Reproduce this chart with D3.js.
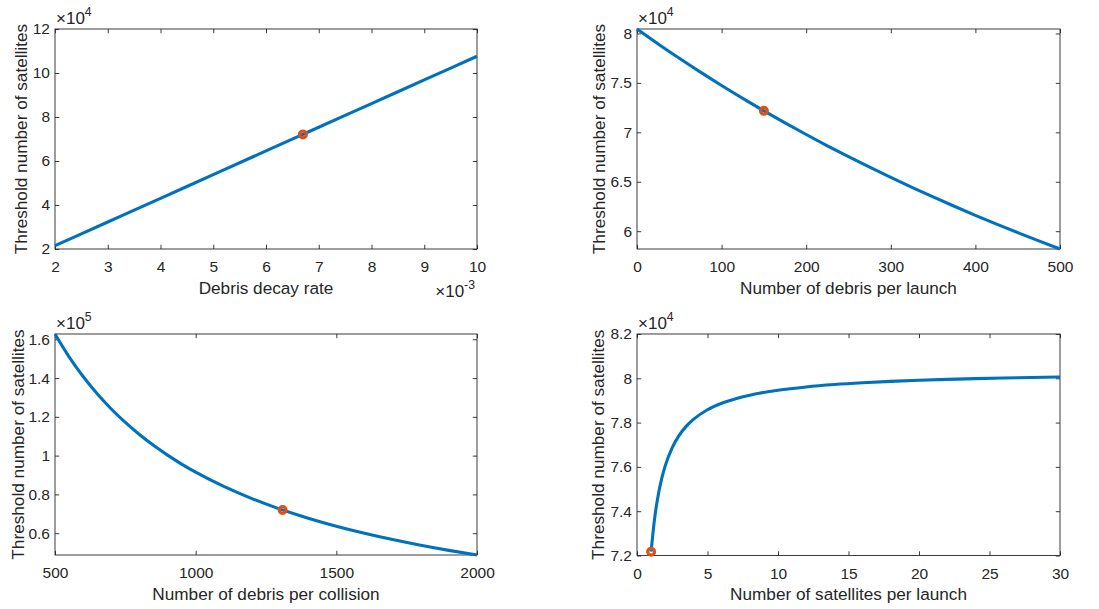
<!DOCTYPE html>
<html>
<head>
<meta charset="utf-8">
<script src="https://cdn.jsdelivr.net/npm/d3@7"></script>
<style>
  html, body { margin: 0; padding: 0; background: #fff; }
  svg { display: block; font-family: "Liberation Sans", Arial, Helvetica, sans-serif; }
</style>
</head>
<body>
<svg id="chart" width="1099" height="609"></svg>
<script>
// ---------------- data ----------------
// Panel 1: debris decay rate
const decayRate   = [0.002, 0.003, 0.004, 0.005, 0.006, 0.007, 0.008, 0.009, 0.010];
const threshDecay = [21520, 32280, 43040, 53810, 64570, 75330, 86090, 96850, 107610];

// Panel 2: number of debris per launch
const debrisPerLaunch    = [0, 25, 50, 75, 100, 125, 150, 175, 200, 225, 250, 275, 300, 325, 350, 375, 400, 425, 450, 475, 500];
const threshLaunchDebris = [80451, 78942, 77488, 76087, 74736, 73433, 72173, 70956, 69780, 68642, 67540, 66473, 65440, 64438, 63466, 62524, 61608, 60720, 59856, 59017, 58200];

// Panel 3: number of debris per collision
const debrisPerCollision = [500, 550, 600, 650, 700, 750, 800, 850, 900, 950, 1000, 1100, 1200, 1300, 1400, 1500, 1600, 1700, 1800, 1900, 2000];
const threshCollision    = [162710, 150950, 140780, 131890, 124050, 117100, 110880, 105290, 100240, 95650, 91460, 84100, 77830, 72430, 67730, 63610, 59960, 56700, 53780, 51150, 48760];

// Panel 4: number of satellites per launch
const satsPerLaunch = [1, 1.25, 1.5, 1.75, 2, 2.5, 3, 3.5, 4, 5, 6, 7, 8, 10, 12, 14, 16, 18, 20, 22, 24, 26, 28, 30];
const threshSats    = [72173, 73674, 74711, 75469, 76048, 76874, 77434, 77840, 78146, 78580, 78871, 79081, 79239, 79461, 79610, 79717, 79797, 79860, 79910, 79951, 79985, 80014, 80039, 80060];

// Nominal operating points (markers)
const markerX = [0.0067, 150, 1309, 1];
const markerY = [72100, 72173, 72000, 72173];

// Axis ranges
const xDomains = [[0.002, 0.010], [0, 500], [500, 2000], [0, 30]];
const yDomains = [[20000, 120000], [58200, 80451], [48760, 162710], [72000, 82000]];

// Tick values & labels
const xTickValues = [
  [0.002, 0.003, 0.004, 0.005, 0.006, 0.007, 0.008, 0.009, 0.010],
  [0, 100, 200, 300, 400, 500],
  [500, 1000, 1500, 2000],
  [0, 5, 10, 15, 20, 25, 30]
];
const xTickLabels = [
  ["2", "3", "4", "5", "6", "7", "8", "9", "10"],
  ["0", "100", "200", "300", "400", "500"],
  ["500", "1000", "1500", "2000"],
  ["0", "5", "10", "15", "20", "25", "30"]
];
const yTickValues = [
  [20000, 40000, 60000, 80000, 100000, 120000],
  [60000, 65000, 70000, 75000, 80000],
  [60000, 80000, 100000, 120000, 140000, 160000],
  [72000, 74000, 76000, 78000, 80000, 82000]
];
const yTickLabels = [
  ["2", "4", "6", "8", "10", "12"],
  ["6", "6.5", "7", "7.5", "8"],
  ["0.6", "0.8", "1", "1.2", "1.4", "1.6"],
  ["7.2", "7.4", "7.6", "7.8", "8", "8.2"]
];
const yExponents = ["4", "4", "5", "4"];
const xExponents = ["-3", null, null, null];

const xLabels = ["Debris decay rate", "Number of debris per launch", "Number of debris per collision", "Number of satellites per launch"];
const yLabel  = "Threshold number of satellites";

// ---------------- layout ----------------
const panels = [
  { x: decayRate,          y: threshDecay,        box: [55, 29, 477, 249],   ylabX: 27 },
  { x: debrisPerLaunch,    y: threshLaunchDebris, box: [637, 29, 1060, 249], ylabX: 605 },
  { x: debrisPerCollision, y: threshCollision,    box: [55, 334, 477, 555],  ylabX: 23.5 },
  { x: satsPerLaunch,      y: threshSats,         box: [637, 334, 1060, 555.5], ylabX: 604 }
];

const AX = "#262626";
const LINE = "#0072BD";
const MARK = "#D95319";
const TICKFS = 15.5;
const LABFS = 17.2;
const EXPFS = 17;
const TL = 4.2;

const svg = d3.select("#chart");

panels.forEach((p, i) => {
  const [x0, y0, x1, y1] = p.box;
  const xs = d3.scaleLinear().domain(xDomains[i]).range([x0, x1]);
  const ys = d3.scaleLinear().domain(yDomains[i]).range([y1, y0]);
  const g = svg.append("g");

  const clipId = "clip" + i;
  svg.append("clipPath").attr("id", clipId)
    .append("rect").attr("x", x0 - 2).attr("y", y0 - 2).attr("width", x1 - x0 + 4).attr("height", y1 - y0 + 4);

  // axes
  const xfmt = (d) => xTickLabels[i][xTickValues[i].indexOf(d)];
  const yfmt = (d) => yTickLabels[i][yTickValues[i].indexOf(d)];

  const axB = g.append("g").attr("transform", `translate(0,${y1})`)
    .call(d3.axisBottom(xs).tickValues(xTickValues[i]).tickFormat(xfmt).tickSizeInner(-TL).tickSizeOuter(0).tickPadding(12));
  const axT = g.append("g").attr("transform", `translate(0,${y0})`)
    .call(d3.axisTop(xs).tickValues(xTickValues[i]).tickFormat("").tickSizeInner(-TL).tickSizeOuter(0));
  const axL = g.append("g").attr("transform", `translate(${x0},0)`)
    .call(d3.axisLeft(ys).tickValues(yTickValues[i]).tickFormat(yfmt).tickSizeInner(-TL).tickSizeOuter(0).tickPadding(5));
  const axR = g.append("g").attr("transform", `translate(${x1},0)`)
    .call(d3.axisRight(ys).tickValues(yTickValues[i]).tickFormat("").tickSizeInner(-TL).tickSizeOuter(0));

  [axB, axT, axL, axR].forEach(a => {
    a.select(".domain").remove();
    a.selectAll(".tick line").attr("stroke", AX).attr("stroke-width", 0.9);
    a.selectAll(".tick text").attr("fill", AX).style("font-size", TICKFS + "px")
      .style("font-family", "'Liberation Sans', Arial, sans-serif");
  });

  // box
  g.append("rect").attr("x", x0).attr("y", y0).attr("width", x1 - x0).attr("height", y1 - y0)
    .attr("fill", "none").attr("stroke", AX).attr("stroke-width", 0.9);

  // curve
  const pts = p.x.map((v, k) => [v, p.y[k]]);
  const line = d3.line().x(d => xs(d[0])).y(d => ys(d[1])).curve(d3.curveMonotoneX);
  g.append("path").attr("d", line(pts))
    .attr("fill", "none").attr("stroke", LINE).attr("stroke-width", 3.1)
    .attr("stroke-linejoin", "round").attr("clip-path", `url(#${clipId})`);

  // marker
  g.append("circle").attr("cx", xs(markerX[i])).attr("cy", ys(markerY[i])).attr("r", 3.4)
    .attr("fill", "none").attr("stroke", MARK).attr("stroke-width", 3.2);

  // x label
  g.append("text").attr("x", (x0 + x1) / 2).attr("y", y1 + 44.5)
    .attr("text-anchor", "middle").attr("fill", AX).style("font-size", LABFS + "px")
    .text(xLabels[i]);

  // y label
  g.append("text").attr("transform", `translate(${p.ylabX},${(y0 + y1) / 2}) rotate(-90)`)
    .attr("text-anchor", "middle").attr("fill", AX).style("font-size", LABFS + "px")
    .text(yLabel);

  // y exponent
  const ye = g.append("text").attr("x", x0 + 1).attr("y", y0 - 5)
    .attr("fill", AX).style("font-size", EXPFS + "px");
  ye.append("tspan").text("\u00D710");
  ye.append("tspan").attr("dy", -8).style("font-size", (EXPFS * 0.72) + "px").text(yExponents[i]);

  // x exponent
  if (xExponents[i]) {
    const xe = g.append("text").attr("x", x1 - 2).attr("y", y1 + 48)
      .attr("text-anchor", "end").attr("fill", AX).style("font-size", EXPFS + "px");
    xe.append("tspan").text("\u00D710");
    xe.append("tspan").attr("dy", -8).style("font-size", (EXPFS * 0.72) + "px").text(xExponents[i]);
  }
});
</script>
</body>
</html>
